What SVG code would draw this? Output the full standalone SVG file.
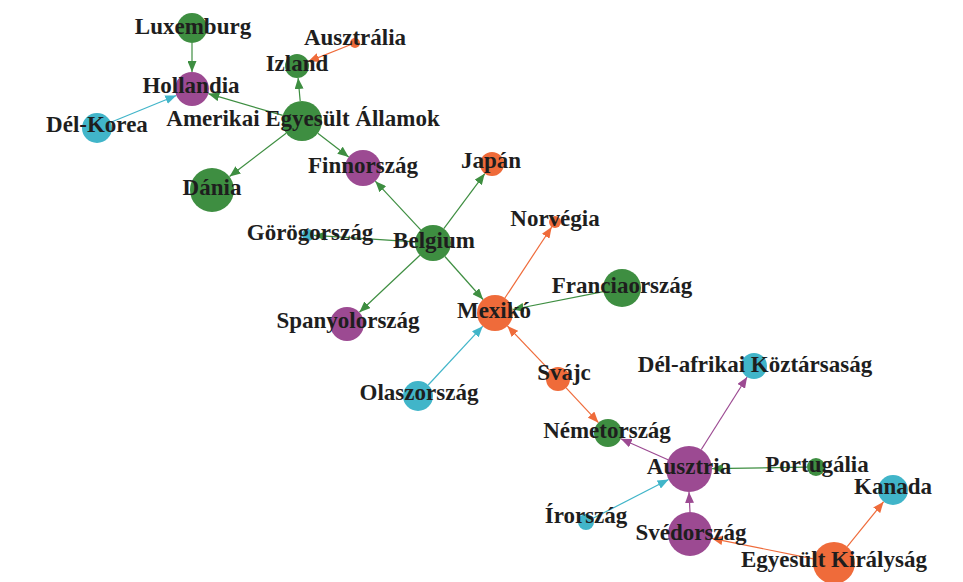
<svg xmlns="http://www.w3.org/2000/svg" width="963" height="582" viewBox="0 0 963 582">
<style>
.e{fill:none;stroke-width:1.2}
.g{stroke:#3e8e41}.p{stroke:#9c4a92}.c{stroke:#41b5c9}.o{stroke:#ef6b3a}
.ng{fill:#3e8e41}.np{fill:#9c4a92}.nc{fill:#41b5c9}.no{fill:#ef6b3a}
text{font-family:"Liberation Serif","Times New Roman",serif;font-weight:bold;font-size:23px;fill:#1e1e1e;text-anchor:middle}
</style>
<defs>
<marker id="ag" markerUnits="userSpaceOnUse" markerWidth="11" markerHeight="9" refX="11" refY="4.5" orient="auto"><path d="M0,0L11,4.5L0,9z" fill="#3e8e41"/></marker>
<marker id="ap" markerUnits="userSpaceOnUse" markerWidth="11" markerHeight="9" refX="11" refY="4.5" orient="auto"><path d="M0,0L11,4.5L0,9z" fill="#9c4a92"/></marker>
<marker id="ac" markerUnits="userSpaceOnUse" markerWidth="11" markerHeight="9" refX="11" refY="4.5" orient="auto"><path d="M0,0L11,4.5L0,9z" fill="#41b5c9"/></marker>
<marker id="ao" markerUnits="userSpaceOnUse" markerWidth="11" markerHeight="9" refX="11" refY="4.5" orient="auto"><path d="M0,0L11,4.5L0,9z" fill="#ef6b3a"/></marker>
</defs>
<rect width="963" height="582" fill="#ffffff"/>
<g id="edges">
<line class="e g" x1="192" y1="43" x2="192" y2="72" marker-end="url(#ag)"/>
<line class="e c" x1="110.9" y1="122.3" x2="176.3" y2="95.5" marker-end="url(#ac)"/>
<line class="e g" x1="282.8" y1="115.4" x2="208.3" y2="93.7" marker-end="url(#ag)"/>
<line class="e g" x1="300.2" y1="101.1" x2="298.1" y2="78" marker-end="url(#ag)"/>
<line class="e o" x1="350.4" y1="44.8" x2="308.1" y2="61.6" marker-end="url(#ao)"/>
<line class="e g" x1="286.1" y1="133.2" x2="229.5" y2="176.6" marker-end="url(#ag)"/>
<line class="e g" x1="317.8" y1="133.2" x2="348.7" y2="157" marker-end="url(#ag)"/>
<line class="e g" x1="420.7" y1="229.8" x2="375.3" y2="181.2" marker-end="url(#ag)"/>
<line class="e g" x1="443.8" y1="228.6" x2="484.8" y2="173.6" marker-end="url(#ag)"/>
<line class="e g" x1="415" y1="241.8" x2="314" y2="235.4" marker-end="url(#ag)"/>
<line class="e g" x1="419.9" y1="255.3" x2="359.4" y2="312.3" marker-end="url(#ag)"/>
<line class="e g" x1="444.9" y1="256.5" x2="483.1" y2="299.5" marker-end="url(#ag)"/>
<line class="e o" x1="504.9" y1="298" x2="551.7" y2="227" marker-end="url(#ao)"/>
<line class="e g" x1="603.4" y1="291.7" x2="512.7" y2="309.5" marker-end="url(#ag)"/>
<line class="e c" x1="428.2" y1="385" x2="482.8" y2="326.2" marker-end="url(#ac)"/>
<line class="e o" x1="549.7" y1="370.3" x2="507.4" y2="326" marker-end="url(#ao)"/>
<line class="e o" x1="566.1" y1="387.8" x2="598.5" y2="422.7" marker-end="url(#ao)"/>
<line class="e p" x1="668" y1="459.7" x2="620.8" y2="438.7" marker-end="url(#ap)"/>
<line class="e p" x1="701.3" y1="449.5" x2="747.1" y2="377" marker-end="url(#ap)"/>
<line class="e g" x1="807" y1="467.1" x2="712" y2="468.6" marker-end="url(#ag)"/>
<line class="e c" x1="593.1" y1="518.3" x2="668.6" y2="479.5" marker-end="url(#ac)"/>
<line class="e p" x1="690" y1="512" x2="689" y2="492" marker-end="url(#ap)"/>
<line class="e o" x1="813.4" y1="558.9" x2="711.6" y2="538.3" marker-end="url(#ao)"/>
<line class="e o" x1="847.2" y1="546.7" x2="883.6" y2="501.7" marker-end="url(#ao)"/>
</g>
<g id="luxemburg"><circle class="ng" cx="192" cy="28" r="15"/><text x="193" y="34">Luxemburg</text></g>
<g id="hollandia"><circle class="np" cx="192" cy="89" r="17"/><text x="191" y="93">Hollandia</text></g>
<g id="del-korea"><circle class="nc" cx="97" cy="128" r="15"/><text x="97" y="132">Dél-Korea</text></g>
<g id="izland"><circle class="ng" cx="297" cy="66" r="12"/><text x="297" y="71">Izland</text></g>
<g id="ausztralia"><circle class="no" cx="355" cy="43" r="5"/><text x="355" y="45">Ausztrália</text></g>
<g id="usa"><circle class="ng" cx="302" cy="121" r="20"/><text x="303" y="126">Amerikai Egyesült Államok</text></g>
<g id="finnorszag"><circle class="np" cx="363" cy="168" r="18"/><text x="363" y="173">Finnország</text></g>
<g id="dania"><circle class="ng" cx="212" cy="190" r="22"/><text x="212" y="195">Dánia</text></g>
<g id="japan"><circle class="no" cx="492" cy="164" r="12"/><text x="491" y="168">Japán</text></g>
<g id="norvegia"><circle class="no" cx="555" cy="222" r="6"/><text x="555" y="226">Norvégia</text></g>
<g id="gorogorszag"><circle class="nc" cx="308" cy="235" r="6"/><text x="310" y="240">Görögország</text></g>
<g id="belgium"><circle class="ng" cx="433" cy="243" r="18"/><text x="434" y="248">Belgium</text></g>
<g id="franciaorszag"><circle class="ng" cx="622" cy="288" r="19"/><text x="622" y="293">Franciaország</text></g>
<g id="mexiko"><circle class="no" cx="495" cy="313" r="18"/><text x="494" y="318">Mexikó</text></g>
<g id="spanyolorszag"><circle class="np" cx="347" cy="324" r="17"/><text x="348" y="328">Spanyolország</text></g>
<g id="olaszorszag"><circle class="nc" cx="418" cy="396" r="15"/><text x="419" y="400">Olaszország</text></g>
<g id="svajc"><circle class="no" cx="558" cy="379" r="12"/><text x="564" y="380">Svájc</text></g>
<g id="del-afrika"><circle class="nc" cx="754" cy="366" r="13"/><text x="755" y="372">Dél-afrikai Köztársaság</text></g>
<g id="nemetorszag"><circle class="ng" cx="608" cy="433" r="14"/><text x="607" y="438">Németország</text></g>
<g id="ausztria"><circle class="np" cx="689" cy="469" r="23"/><text x="689" y="474">Ausztria</text></g>
<g id="portugalia"><circle class="ng" cx="816" cy="467" r="9"/><text x="817" y="472">Portugália</text></g>
<g id="kanada"><circle class="nc" cx="893" cy="490" r="15"/><text x="893" y="494">Kanada</text></g>
<g id="irorszag"><circle class="nc" cx="586" cy="522" r="8"/><text x="586" y="523">Írország</text></g>
<g id="svedorszag"><circle class="np" cx="690" cy="534" r="22"/><text x="691" y="540">Svédország</text></g>
<g id="egyesult-kiralysag"><circle class="no" cx="834" cy="563" r="21"/><text x="834" y="567">Egyesült Királyság</text></g>
</svg>
